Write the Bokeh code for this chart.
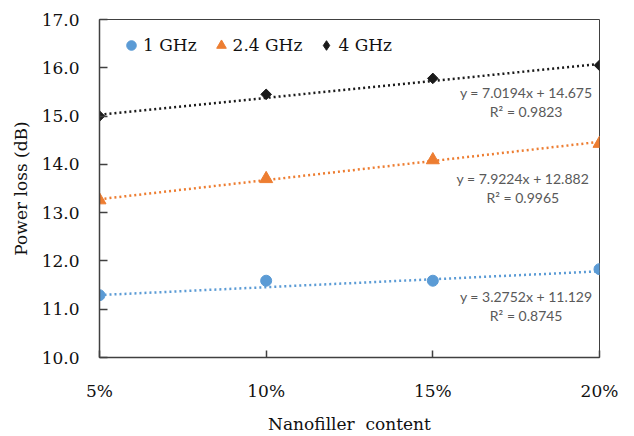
from bokeh.plotting import figure
from bokeh.models import (FixedTicker, NumeralTickFormatter, Range1d, Label,
                          Legend, LegendItem)
from bokeh.embed import file_html
from bokeh.resources import INLINE

# ---- data ----
content = [0.05, 0.10, 0.15, 0.20]
loss_1ghz = [11.29, 11.59, 11.59, 11.83]
loss_24ghz = [13.26, 13.70, 14.09, 14.43]
loss_4ghz = [15.00, 15.45, 15.78, 16.05]
series_names = ["1 GHz", "2.4 GHz", "4 GHz"]
fit_slopes = [3.2752, 7.9224, 7.0194]
fit_intercepts = [11.129, 12.882, 14.675]
fit_r2 = [0.8745, 0.9965, 0.9823]
x_ticks = [0.05, 0.10, 0.15, 0.20]
y_ticks = [10, 11, 12, 13, 14, 15, 16, 17]

# annotation anchor positions (data coords): (x, y line1, y line2)
eq_pos = [(0.178, 11.262, 10.872), (0.177, 13.705, 13.315), (0.178, 15.480, 15.090)]

colors = ["#5B9BD5", "#ED7D31", "#1A1A1A"]
markers = ["circle", "triangle", "square"]
legend_markers = ["circle", "triangle", "diamond"]
sizes = [11, 13, 7.5]
angles = [0, 0, 0.7854]
series = [loss_1ghz, loss_24ghz, loss_4ghz]

SERIF = "DejaVu Serif"

p = figure(width=634, height=436, output_backend="svg", toolbar_location=None,
           x_range=Range1d(0.05, 0.20), y_range=Range1d(10, 17),
           min_border_left=99, min_border_right=35, min_border_top=19,
           min_border_bottom=76)
p.background_fill_color = "white"
p.border_fill_color = "white"
p.outline_line_color = "#404040"
p.outline_line_width = 1
p.xgrid.visible = False
p.ygrid.visible = False

for ax in (p.xaxis, p.yaxis):
    ax.axis_line_color = "#404040"
    ax.axis_line_width = 1.5
    ax.major_tick_line_color = "#404040"
    ax.major_tick_line_width = 1.5
    ax.major_tick_out = 0
    ax.minor_tick_line_color = None
    ax.major_label_text_font = SERIF
    ax.major_label_text_font_size = "17px"
    ax.major_label_text_color = "#111111"
    ax.axis_label_text_font = SERIF
    ax.axis_label_text_font_size = "17px"
    ax.axis_label_text_font_style = "normal"
    ax.axis_label_text_color = "#111111"

p.xaxis.ticker = FixedTicker(ticks=x_ticks)
p.xaxis.formatter = NumeralTickFormatter(format="0%")
p.xaxis.major_tick_in = 7
p.xaxis.major_label_standoff = 23
p.xaxis.axis_label = "Nanofiller\u00a0\u00a0content"
p.xaxis.axis_label_standoff = 10

p.yaxis.ticker = FixedTicker(ticks=y_ticks)
p.yaxis.formatter = NumeralTickFormatter(format="0.0")
p.yaxis.major_tick_in = 8
p.yaxis.major_label_standoff = 20
p.yaxis.axis_label = "Power loss (dB)"
p.yaxis.axis_label_standoff = 8

items = []
for name, vals, col, mk, lmk, sz, ang, m, b in zip(series_names, series, colors, markers,
                                                   legend_markers, sizes, angles,
                                                   fit_slopes, fit_intercepts):
    xs = [content[0], content[-1]]
    ys = [m * x + b for x in xs]
    p.line(xs, ys, line_color=col, line_width=2.5, line_dash="2 3")
    p.scatter(content, vals, marker=mk, size=sz, angle=ang,
              fill_color=col, line_color=col)
    # legend-only renderer: one point far outside the fixed ranges (never visible),
    # used only to control the legend glyph shape
    lr = p.scatter(x=[-1.0], y=[-1.0], marker=lmk, fill_color=col, line_color=col)
    items.append(LegendItem(label=name, renderers=[lr]))

for (x, y1, y2), m, b, r2 in zip(eq_pos, fit_slopes, fit_intercepts, fit_r2):
    for y, txt in ((y1, f"y = {m:.4f}x + {b:.3f}"), (y2, f"R\u00b2 = {r2:.4f}")):
        p.add_layout(Label(x=x, y=y, text=txt, text_align="center",
                           text_baseline="middle", text_font="Lato",
                           text_font_size="14px", text_color="#595959"))

legend = Legend(items=items, orientation="horizontal", location=(20, 300),
                glyph_width=24, glyph_height=24, label_standoff=-3, spacing=12,
                padding=0, margin=0, border_line_alpha=0, background_fill_alpha=0,
                label_text_font=SERIF, label_text_font_size="17px",
                label_text_color="#111111")
p.add_layout(legend, "center")

open("out.html", "w").write(file_html(p, INLINE))
